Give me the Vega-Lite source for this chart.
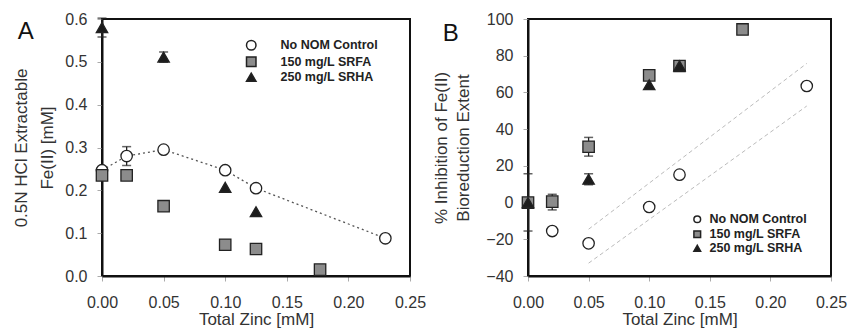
{
  "$schema": "https://vega.github.io/schema/vega-lite/v6.json",
  "background": "white",
  "padding": {"left": 11, "top": 10, "right": 2, "bottom": 2},
  "spacing": 4,
  "config": {
    "font": "Liberation Sans",
    "view": {"stroke": "#111", "strokeWidth": 2},
    "axis": {
      "labelFont": "Liberation Sans", "labelFontSize": 16, "labelColor": "#333",
      "titleFont": "Liberation Sans", "titleFontSize": 17, "titleFontWeight": "normal", "titleColor": "#333",
      "domainColor": "#111", "domainWidth": 2, "tickColor": "#aaaaaa", "tickSize": 5, "tickWidth": 1,
      "grid": false, "labelPadding": 10, "titlePadding": 8,
      "labelFlush": false, "labelOverlap": false, "labelBound": false
    },
    "axisX": {"labelPadding": 13, "titlePadding": 1},
    "legend": {
      "labelFont": "Liberation Sans", "labelFontWeight": "bold", "labelFontSize": 12.5, "labelColor": "#222",
      "padding": 0, "rowPadding": 3
    }
  },
  "datasets": {
    "a": [
      {"series": "No NOM Control", "x": 0, "y": 0.247},
      {"series": "No NOM Control", "x": 0.02, "y": 0.28, "lo": 0.258, "hi": 0.302},
      {"series": "No NOM Control", "x": 0.05, "y": 0.295},
      {"series": "No NOM Control", "x": 0.10, "y": 0.247},
      {"series": "No NOM Control", "x": 0.125, "y": 0.205},
      {"series": "No NOM Control", "x": 0.23, "y": 0.088},
      {"series": "150 mg/L SRFA", "x": 0, "y": 0.235},
      {"series": "150 mg/L SRFA", "x": 0.02, "y": 0.235},
      {"series": "150 mg/L SRFA", "x": 0.05, "y": 0.163},
      {"series": "150 mg/L SRFA", "x": 0.10, "y": 0.073},
      {"series": "150 mg/L SRFA", "x": 0.125, "y": 0.063},
      {"series": "150 mg/L SRFA", "x": 0.177, "y": 0.015},
      {"series": "250 mg/L SRHA", "x": 0, "y": 0.58, "lo": 0.558, "hi": 0.602},
      {"series": "250 mg/L SRHA", "x": 0.05, "y": 0.511, "lo": 0.499, "hi": 0.523},
      {"series": "250 mg/L SRHA", "x": 0.10, "y": 0.207},
      {"series": "250 mg/L SRHA", "x": 0.125, "y": 0.15}
    ],
    "b": [
      {"series": "No NOM Control", "x": 0.02, "y": -15.5},
      {"series": "No NOM Control", "x": 0.05, "y": -22.2},
      {"series": "No NOM Control", "x": 0.10, "y": -2.4},
      {"series": "No NOM Control", "x": 0.125, "y": 15.2},
      {"series": "No NOM Control", "x": 0.23, "y": 63.5},
      {"series": "150 mg/L SRFA", "x": 0, "y": 0},
      {"series": "150 mg/L SRFA", "x": 0.02, "y": 0.5, "lo": -4, "hi": 4.5},
      {"series": "150 mg/L SRFA", "x": 0.05, "y": 30.4, "lo": 25.3, "hi": 35.5},
      {"series": "150 mg/L SRFA", "x": 0.10, "y": 69.3},
      {"series": "150 mg/L SRFA", "x": 0.125, "y": 74.4},
      {"series": "150 mg/L SRFA", "x": 0.177, "y": 94.3},
      {"series": "250 mg/L SRHA", "x": 0, "y": 0, "lo": -15.5, "hi": 15.7},
      {"series": "250 mg/L SRHA", "x": 0.05, "y": 12.7, "lo": 9.7, "hi": 15.7},
      {"series": "250 mg/L SRHA", "x": 0.10, "y": 64.2},
      {"series": "250 mg/L SRHA", "x": 0.125, "y": 74.5}
    ],
    "bands": [
      {"band": "upper", "x": 0.05, "y": -14.5},
      {"band": "upper", "x": 0.23, "y": 75.8},
      {"band": "lower", "x": 0.05, "y": -33},
      {"band": "lower", "x": 0.23, "y": 52.6}
    ]
  },
  "hconcat": [
    {
      "width": 308, "height": 257,
      "title": {"text": "A", "anchor": "start", "frame": "bounds", "fontSize": 24, "fontWeight": "normal", "font": "Liberation Sans", "color": "#111", "offset": -33, "dx": 5},
      "layer": [
        {
          "data": {"name": "a"},
          "transform": [{"filter": "datum.series === 'No NOM Control'"}],
          "mark": {"type": "line", "strokeDash": [2, 3], "color": "#555", "strokeWidth": 1.3},
          "encoding": {
            "x": {"field": "x", "type": "quantitative", "scale": {"domain": [0, 0.25], "nice": false, "padding": 0},
                  "axis": {"values": [0, 0.05, 0.1, 0.15, 0.2, 0.25], "tickCount": 10, "format": ".2f", "title": "Total Zinc [mM]"}},
            "y": {"field": "y", "type": "quantitative", "scale": {"domain": [0, 0.6], "nice": false, "padding": 0},
                  "axis": {"values": [0, 0.1, 0.2, 0.3, 0.4, 0.5, 0.6], "tickCount": 10, "format": ".1f", "title": ["0.5N HCl Extractable", "Fe(II) [mM]"], "titleLineHeight": 26}},
            "order": {"field": "x", "type": "quantitative"}
          }
        },
        {
          "data": {"name": "a"},
          "transform": [{"filter": "isValid(datum.lo)"}],
          "mark": {"type": "rule", "color": "#222", "strokeWidth": 1.3},
          "encoding": {
            "x": {"field": "x", "type": "quantitative"},
            "y": {"field": "lo", "type": "quantitative"},
            "y2": {"field": "hi"}
          }
        },
        {
          "data": {"name": "a"},
          "transform": [{"filter": "isValid(datum.hi)"}],
          "mark": {"type": "tick", "orient": "horizontal", "color": "#222", "thickness": 1.5, "size": 9},
          "encoding": {
            "x": {"field": "x", "type": "quantitative"},
            "y": {"field": "hi", "type": "quantitative"}
          }
        },
        {
          "data": {"name": "a"},
          "transform": [{"filter": "isValid(datum.lo)"}],
          "mark": {"type": "tick", "orient": "horizontal", "color": "#222", "thickness": 1.5, "size": 9},
          "encoding": {
            "x": {"field": "x", "type": "quantitative"},
            "y": {"field": "lo", "type": "quantitative"}
          }
        },
        {
          "data": {"name": "a"},
          "mark": {"type": "point", "filled": true, "size": 130, "stroke": "#222", "strokeWidth": 1.3, "opacity": 1},
          "encoding": {
            "x": {"field": "x", "type": "quantitative"},
            "y": {"field": "y", "type": "quantitative"},
            "shape": {"field": "series", "type": "nominal",
                      "scale": {"domain": ["No NOM Control", "150 mg/L SRFA", "250 mg/L SRHA"], "range": ["circle", "square", "triangle-up"]},
                      "legend": {"title": null, "orient": "none", "legendX": 143, "legendY": 20, "labelOffset": 23, "symbolSize": 90, "rowPadding": 0.5,
                                 "encode": {"symbols": {"update": {"stroke": {"value": "#222"}, "strokeWidth": {"value": 1}}}}}},
            "fill": {"field": "series", "type": "nominal",
                     "scale": {"domain": ["No NOM Control", "150 mg/L SRFA", "250 mg/L SRHA"], "range": ["#ffffff", "#8c8c8c", "#1c1c1c"]},
                     "legend": {"title": null, "orient": "none", "legendX": 143, "legendY": 20, "labelOffset": 23, "symbolSize": 90, "rowPadding": 0.5,
                                "encode": {"symbols": {"update": {"stroke": {"value": "#222"}, "strokeWidth": {"value": 1}}}}}}
          }
        }
      ]
    },
    {
      "width": 303, "height": 257,
      "title": {"text": "B", "anchor": "start", "frame": "bounds", "fontSize": 24, "fontWeight": "normal", "font": "Liberation Sans", "color": "#111", "offset": -35, "dx": 10},
      "layer": [
        {
          "data": {"name": "bands"},
          "mark": {"type": "line", "strokeDash": [4, 3], "color": "#bbbbbb", "strokeWidth": 1},
          "encoding": {
            "x": {"field": "x", "type": "quantitative", "scale": {"domain": [0, 0.25], "nice": false, "padding": 0},
                  "axis": {"values": [0, 0.05, 0.1, 0.15, 0.2, 0.25], "tickCount": 10, "format": ".2f", "title": "Total Zinc [mM]"}},
            "y": {"field": "y", "type": "quantitative", "scale": {"domain": [-40, 100], "nice": false, "padding": 0},
                  "axis": {"values": [-40, -20, 0, 20, 40, 60, 80, 100], "tickCount": 10, "format": "d", "title": ["% Inhibition of Fe(II)", "Bioreduction Extent"], "titleLineHeight": 22, "titlePadding": 13}},
            "detail": {"field": "band", "type": "nominal"}
          }
        },
        {
          "data": {"name": "b"},
          "transform": [{"filter": "isValid(datum.lo)"}],
          "mark": {"type": "rule", "color": "#222", "strokeWidth": 1.3},
          "encoding": {
            "x": {"field": "x", "type": "quantitative"},
            "y": {"field": "lo", "type": "quantitative"},
            "y2": {"field": "hi"}
          }
        },
        {
          "data": {"name": "b"},
          "transform": [{"filter": "isValid(datum.hi)"}],
          "mark": {"type": "tick", "orient": "horizontal", "color": "#222", "thickness": 1.5, "size": 9},
          "encoding": {
            "x": {"field": "x", "type": "quantitative"},
            "y": {"field": "hi", "type": "quantitative"}
          }
        },
        {
          "data": {"name": "b"},
          "transform": [{"filter": "isValid(datum.lo)"}],
          "mark": {"type": "tick", "orient": "horizontal", "color": "#222", "thickness": 1.5, "size": 9},
          "encoding": {
            "x": {"field": "x", "type": "quantitative"},
            "y": {"field": "lo", "type": "quantitative"}
          }
        },
        {
          "data": {"name": "b"},
          "mark": {"type": "point", "filled": true, "size": 130, "stroke": "#222", "strokeWidth": 1.3, "opacity": 1},
          "encoding": {
            "x": {"field": "x", "type": "quantitative"},
            "y": {"field": "y", "type": "quantitative"},
            "shape": {"field": "series", "type": "nominal",
                      "scale": {"domain": ["No NOM Control", "150 mg/L SRFA", "250 mg/L SRHA"], "range": ["circle", "square", "triangle-up"]},
                      "legend": {"title": null, "orient": "none", "legendX": 163, "legendY": 194, "labelOffset": 6, "symbolSize": 45, "rowPadding": 1,
                                 "encode": {"symbols": {"update": {"stroke": {"value": "#222"}, "strokeWidth": {"value": 1}}}}}},
            "fill": {"field": "series", "type": "nominal",
                     "scale": {"domain": ["No NOM Control", "150 mg/L SRFA", "250 mg/L SRHA"], "range": ["#ffffff", "#8c8c8c", "#1c1c1c"]},
                     "legend": {"title": null, "orient": "none", "legendX": 163, "legendY": 194, "labelOffset": 6, "symbolSize": 45, "rowPadding": 1,
                                "encode": {"symbols": {"update": {"stroke": {"value": "#222"}, "strokeWidth": {"value": 1}}}}}}
          }
        }
      ]
    }
  ],
  "resolve": {
    "scale": {"shape": "independent", "fill": "independent", "x": "independent", "y": "independent"},
    "legend": {"shape": "independent", "fill": "independent"}
  }
}
